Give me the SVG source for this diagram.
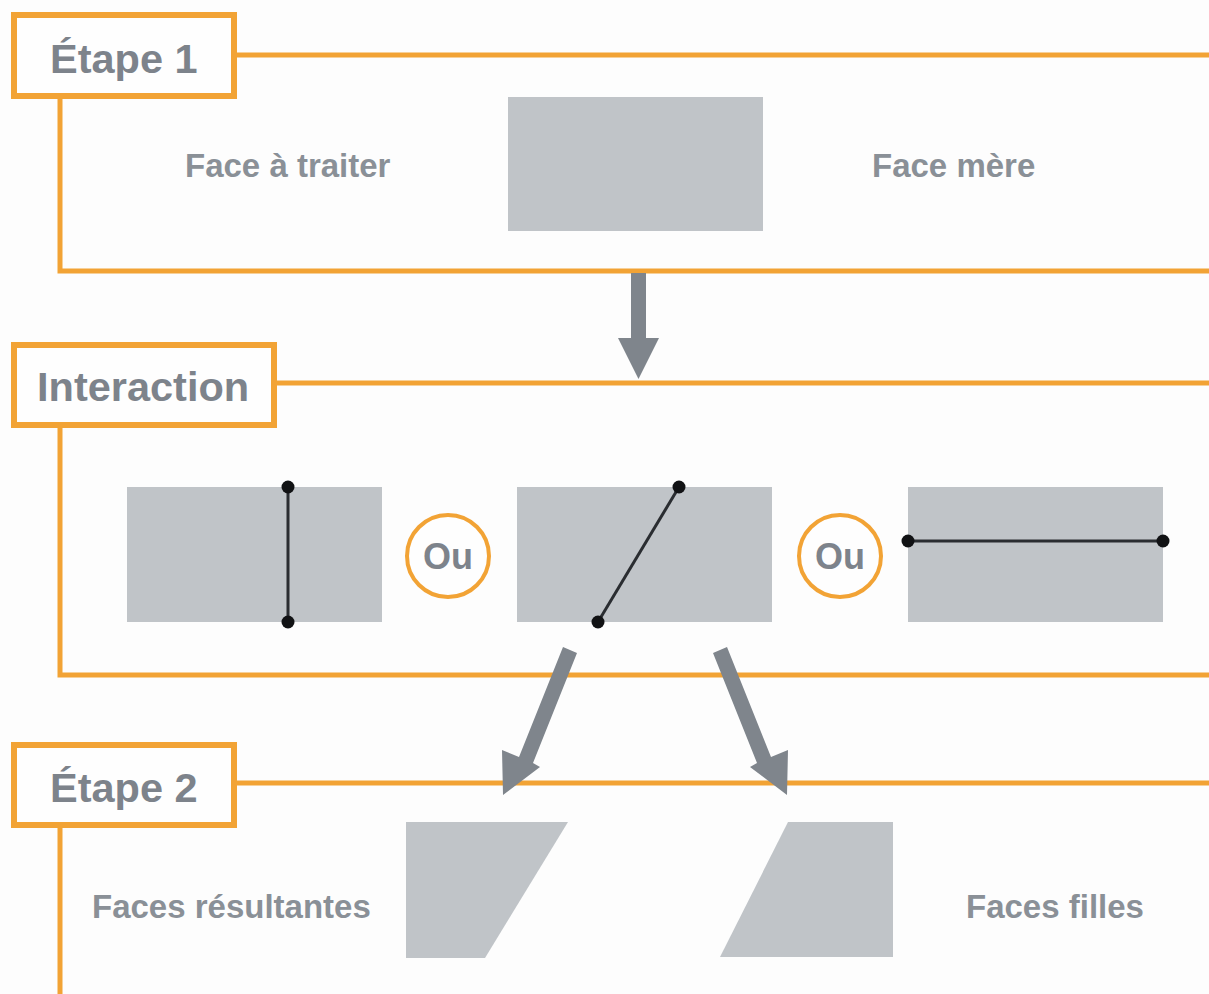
<svg xmlns="http://www.w3.org/2000/svg" width="1209" height="994" viewBox="0 0 1209 994">
<style>
.frame{fill:none;stroke:#f2a335;stroke-width:5}
.box{fill:#fefefe;stroke:#f2a335;stroke-width:6}
.title{font-family:"Liberation Sans",Arial,sans-serif;font-weight:bold;font-size:41.5px;fill:#7d838b}
.label{font-family:"Liberation Sans",Arial,sans-serif;font-weight:bold;font-size:33px;fill:#8a9097}
.ou{font-family:"Liberation Sans",Arial,sans-serif;font-weight:bold;font-size:36px;fill:#7d838b;text-anchor:middle}
.face{fill:#c0c4c8}
.cut{stroke:#2a2d31;stroke-width:3;fill:none}
.dot{fill:#111214}
.circ{fill:#fefefe;stroke:#f2a335;stroke-width:4}
.arrow{fill:#7f858c}
</style>
<rect width="1209" height="994" fill="#fdfdfd"/>

<g id="etape1">
  <path class="frame" d="M237 55 H1209 M60 99 V271 H1209"/>
  <rect class="box" x="14" y="15" width="220" height="81"/>
  <text class="title" x="50" y="73">Étape 1</text>
  <text class="label" x="185" y="177">Face à traiter</text>
  <rect id="face-mere" class="face" x="508" y="97" width="255" height="134"/>
  <text class="label" x="872" y="177">Face mère</text>
</g>

<g id="interaction">
  <path class="frame" d="M277 383 H1209 M60 428 V675 H1209"/>
  <rect class="box" x="14" y="345" width="260" height="80"/>
  <text class="title" x="37" y="401" font-size="43">Interaction</text>
  <g id="option1">
    <rect class="face" x="127" y="487" width="255" height="135"/>
    <line class="cut" x1="288" y1="487" x2="288" y2="622"/>
    <circle class="dot" cx="288" cy="487" r="6.5"/>
    <circle class="dot" cx="288" cy="622" r="6.5"/>
  </g>
  <g id="ou1">
    <circle class="circ" cx="448" cy="556" r="41"/>
    <text class="ou" x="448" y="569">Ou</text>
  </g>
  <g id="option2">
    <rect class="face" x="517" y="487" width="255" height="135"/>
    <line class="cut" x1="598" y1="622" x2="679" y2="487"/>
    <circle class="dot" cx="679" cy="487" r="6.5"/>
    <circle class="dot" cx="598" cy="622" r="6.5"/>
  </g>
  <g id="ou2">
    <circle class="circ" cx="840" cy="556" r="41"/>
    <text class="ou" x="840" y="569">Ou</text>
  </g>
  <g id="option3">
    <rect class="face" x="908" y="487" width="255" height="135"/>
    <line class="cut" x1="908" y1="541" x2="1163" y2="541"/>
    <circle class="dot" cx="908" cy="541" r="6.5"/>
    <circle class="dot" cx="1163" cy="541" r="6.5"/>
  </g>
</g>

<g id="etape2">
  <path class="frame" d="M237 783 H1209 M60 827 V994"/>
  <rect class="box" x="14" y="745" width="220" height="80"/>
  <text class="title" x="50" y="802">Étape 2</text>
  <text class="label" x="92" y="918">Faces résultantes</text>
  <polygon id="fille1" class="face" points="406,822 568,822 485,958 406,958"/>
  <polygon id="fille2" class="face" points="788,822 893,822 893,957 720,957"/>
  <text class="label" x="966" y="918">Faces filles</text>
</g>

<g id="connectors">
  <polygon class="arrow" points="631,273 646,273 646,338 659,338 638.5,379 618,338 631,338"/>
  <polygon class="arrow" points="563,647 577,653 533,763 540,767 503,795 502,750 519,757"/>
  <polygon class="arrow" points="713,653 727,647 771,757 788,750 787,795 750,767 757,763"/>
</g>
</svg>
